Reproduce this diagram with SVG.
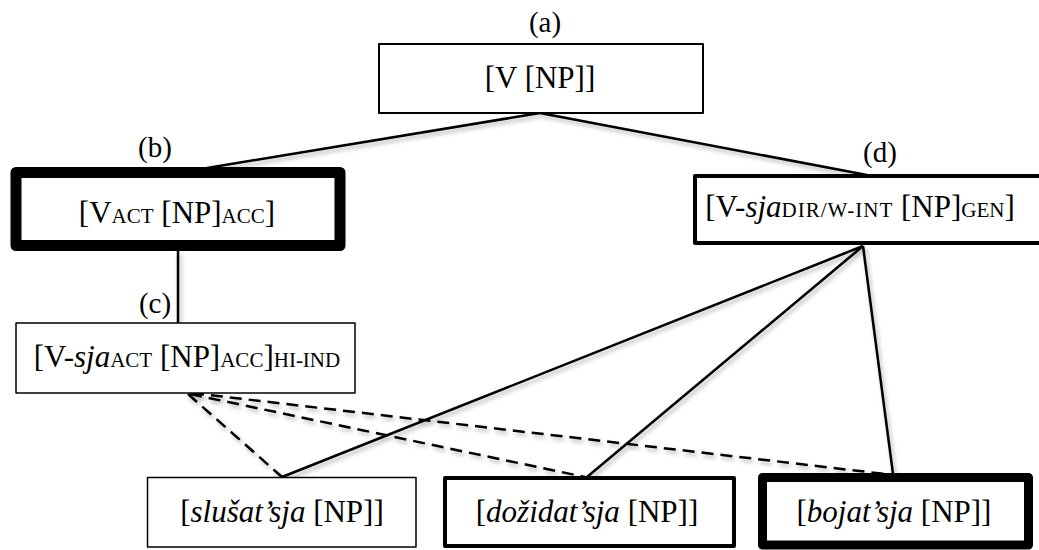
<svg xmlns="http://www.w3.org/2000/svg" width="1039" height="550" viewBox="0 0 1039 550">
<defs>
<filter id="sh" x="-10%" y="-10%" width="120%" height="130%">
<feDropShadow dx="2" dy="3" stdDeviation="2" flood-color="#000" flood-opacity="0.3"/>
</filter>
<style>
.box{fill:#fff;stroke:#000;stroke-linejoin:round}
.t{font-family:"Liberation Serif","Times New Roman",serif;font-size:31px;fill:#000;text-anchor:middle}
.lbl{font-family:"Liberation Serif","Times New Roman",serif;font-size:29px;fill:#000;text-anchor:middle}
.sc{font-size:21px}
.it{font-style:italic}
.ln{stroke:#000;stroke-width:2.5;fill:none}
.dash{stroke:#000;stroke-width:2.5;fill:none;stroke-dasharray:12 7}
</style>
</defs>
<g id="connectors" filter="url(#sh)">
<line class="ln" x1="540" y1="113" x2="207" y2="168"/>
<line class="ln" x1="540" y1="113" x2="867" y2="175"/>
<line class="ln" x1="178" y1="251" x2="178" y2="323"/>
<line class="ln" x1="863" y1="246" x2="282" y2="477"/>
<line class="ln" x1="863" y1="246" x2="587" y2="477"/>
<line class="ln" x1="863" y1="246" x2="893" y2="474"/>
<line class="dash" x1="188" y1="394" x2="282" y2="477"/>
<line class="dash" x1="190" y1="394" x2="585" y2="477"/>
<line class="dash" x1="192" y1="393" x2="885" y2="474"/>
</g>
<g id="node-a">
<rect class="box" x="379" y="44" width="324" height="69" stroke-width="2"/>
<text class="lbl" x="545" y="32">(a)</text>
<text class="t" x="540" y="88">[V [NP]]</text>
</g>
<g id="node-b">
<rect class="box" x="16" y="172.5" width="324" height="73" stroke-width="11"/>
<text class="lbl" x="155" y="157">(b)</text>
<text class="t" x="177" y="223">[V<tspan class="sc">ACT</tspan> [NP]<tspan class="sc">ACC</tspan>]</text>
</g>
<g id="node-c">
<rect class="box" x="16" y="323" width="339" height="70" stroke-width="1.5"/>
<text class="lbl" x="155" y="313">(c)</text>
<text class="t" x="187" y="367">[V-<tspan class="it">sja</tspan><tspan class="sc">ACT</tspan> [NP]<tspan class="sc">ACC</tspan>]<tspan class="sc">HI-IND</tspan></text>
</g>
<g id="node-d">
<rect class="box" x="695" y="176" width="350" height="67" stroke-width="4"/>
<text class="lbl" x="880" y="162">(d)</text>
<text class="t" x="860" y="217">[V-<tspan class="it">sja</tspan><tspan class="sc" letter-spacing="1">DIR/W-INT</tspan> [NP]<tspan class="sc">GEN</tspan>]</text>
</g>
<g id="node-slusatsja">
<rect class="box" x="147.5" y="477.5" width="268.5" height="69.5" stroke-width="1.5"/>
<text class="t" x="282" y="522">[<tspan class="it">slušat’sja</tspan> [NP]]</text>
</g>
<g id="node-dozidatsja">
<rect class="box" x="445" y="478" width="289" height="68" stroke-width="4"/>
<text class="t" x="587" y="522">[<tspan class="it">dožidat’sja</tspan> [NP]]</text>
</g>
<g id="node-bojatsja">
<rect class="box" x="762.5" y="477.5" width="266" height="67.5" stroke-width="9"/>
<text class="t" x="894" y="522">[<tspan class="it">bojat’sja</tspan> [NP]]</text>
</g>
</svg>
